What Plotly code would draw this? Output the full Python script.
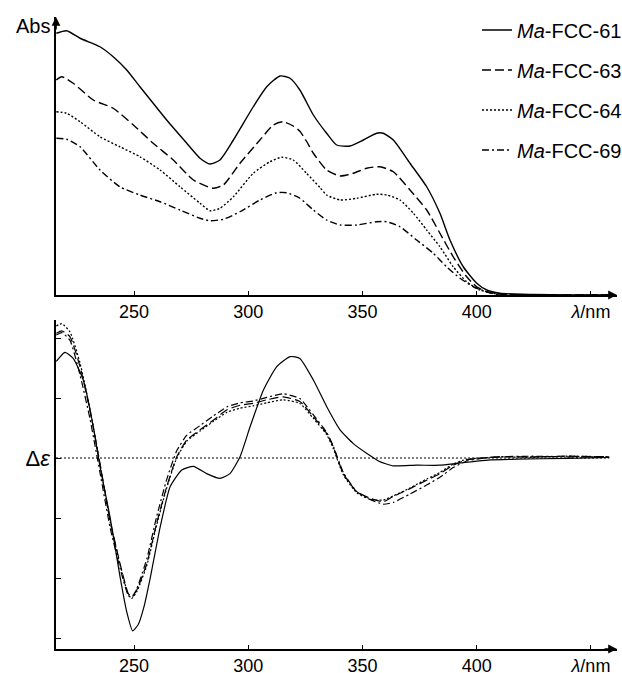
import plotly.graph_objects as go
from plotly.subplots import make_subplots

names = ["<i>Ma</i>-FCC-61", "<i>Ma</i>-FCC-63", "<i>Ma</i>-FCC-64", "<i>Ma</i>-FCC-69"]
dashes = ["solid", "9px,4px", "2px,2px", "7px,3px,2px,3px"]

# ---------- UV (Abs) data ----------
abs_61_x = [216, 220.5, 226.4, 235.1, 240.9, 246.8, 252.6, 258.4, 264.3, 273.1, 278.9, 283.3, 287.6, 293.5,
            302.2, 308.1, 313.9, 318.3, 322.6, 328.5, 334.3, 338.7, 344.5, 350.4, 356.2, 359.1, 363.5, 370.8,
            378.1, 383.9, 388.3, 394.1, 400, 404.4, 410.1, 424.7, 440, 458]
abs_61_y = [1.047, 1.057, 1.027, 0.993, 0.953, 0.900, 0.833, 0.767, 0.700, 0.607, 0.547, 0.524, 0.540, 0.620,
            0.753, 0.833, 0.876, 0.867, 0.820, 0.720, 0.647, 0.600, 0.596, 0.620, 0.647, 0.647, 0.620, 0.527,
            0.433, 0.327, 0.220, 0.113, 0.047, 0.020, 0.007, 0.002, 0.0, 0.0]

abs_63_x = [216, 218.4, 223.4, 232.2, 240.9, 249.7, 258.4, 267.2, 276, 284.7, 289.1, 296.4, 305.1, 311,
            315.3, 319.7, 322.6, 325.5, 328.5, 334.3, 340.2, 346, 351.8, 357.6, 363.5, 370.8, 378.1, 383.9,
            389.7, 395.6, 400, 404.4, 410.1, 430, 458]
abs_63_y = [0.860, 0.873, 0.847, 0.780, 0.747, 0.680, 0.607, 0.540, 0.460, 0.427, 0.440, 0.527, 0.620, 0.680,
            0.693, 0.676, 0.655, 0.615, 0.567, 0.500, 0.476, 0.487, 0.507, 0.513, 0.493, 0.420, 0.340, 0.247,
            0.153, 0.073, 0.033, 0.013, 0.004, 0.0, 0.0]

abs_64_x = [216, 220.5, 226.4, 235.1, 243.8, 252.6, 261.4, 270.1, 278.9, 283.3, 287.6, 293.5, 302.2, 309.5,
            314.6, 319.7, 325.5, 331.4, 334.3, 340.2, 347.5, 356.2, 360.6, 366.4, 372.3, 378.1, 383.9, 389.7,
            395.6, 401.4, 407.3, 413.1, 458]
abs_64_y = [0.733, 0.727, 0.693, 0.633, 0.593, 0.553, 0.500, 0.433, 0.367, 0.337, 0.347, 0.393, 0.487, 0.533,
            0.551, 0.540, 0.487, 0.430, 0.400, 0.380, 0.387, 0.403, 0.400, 0.380, 0.327, 0.260, 0.193, 0.113,
            0.053, 0.020, 0.007, 0.0, 0.0]

abs_69_x = [216, 220.5, 226.4, 235.1, 243.8, 252.6, 261.4, 270.1, 278.9, 283.3, 289.1, 296.4, 305.1, 312.4,
            316.8, 322.6, 328.5, 334.3, 340.2, 347.5, 356.2, 360.6, 366.4, 373.7, 381, 386.8, 392.7, 398.5,
            404.4, 410.1, 458]
abs_69_y = [0.627, 0.623, 0.593, 0.500, 0.433, 0.400, 0.373, 0.340, 0.307, 0.297, 0.303, 0.333, 0.380, 0.409,
            0.409, 0.387, 0.340, 0.300, 0.280, 0.280, 0.293, 0.293, 0.273, 0.220, 0.167, 0.113, 0.067, 0.033,
            0.013, 0.0, 0.0]

# ---------- CD (Δε) data ----------
cd_61_x = [216, 219.8, 223.4, 227.8, 232.2, 235.1, 239.5, 243.9, 246.8, 249.4, 251.8, 254.5, 257, 261.4, 265.8,
           270.9, 276, 281.8, 287.6, 292, 296.4, 300.8, 306.6, 312.4, 318.3, 322.6, 328.5, 334.3, 340.2,
           346, 351.8, 357.6, 363.5, 373.7, 383.9, 391.2, 398.5, 405.8, 417.5, 439.4, 458]
cd_61_y = [16.1, 17.6, 16.6, 13.0, 5.2, -1.4, -9.8, -19.8, -25.6, -28.8, -27.8, -24.6, -20.2, -11.6, -4.8,
           -2.0, -1.4, -2.6, -3.4, -2.6, 0.2, 5.2, 11.3, 15.2, 16.9, 16.6, 13.0, 8.6, 4.7,
           2.4, 0.8, -0.6, -1.3, -1.2, -1.2, -0.9, -0.6, -0.3, -0.2, -0.05, 0.1]

cd_x = [216, 218.4, 222, 226.4, 230.7, 235.1, 239.5, 243.9, 247.5, 249, 251.2, 255.6, 259.9, 264.3,
        268.7, 273.1, 278.9, 284.7, 290.6, 296.4, 302.2, 308.1, 315.3, 322.6, 328.5, 334.3, 337.2,
        341.6, 347.5, 353.3, 359.1, 363.5, 370.8, 378.1, 383.9, 389.7, 395.6, 401.4, 410.1, 424.7,
        439.4, 458]
cd_63_y = [20.8, 21.2, 20.2, 15.2, 8.0, -0.9, -10.3, -17.6, -22.6, -23.1, -22.0, -17.6, -10.9, -4.8,
           0.2, 3.0, 4.7, 6.3, 8.0, 8.8, 9.1, 9.7, 10.2, 9.4, 6.9, 4.1, 1.9,
           -2.6, -5.6, -6.7, -7.3, -6.4, -5.1, -3.7, -2.6, -1.2, -0.3, -0.05, 0.2, 0.2,
           0.3, 0.2]
cd_64_y = [22.0, 22.4, 21.0, 15.8, 8.2, -1.0, -10.5, -17.8, -22.8, -23.4, -22.3, -17.9, -11.2, -5.0,
           0.0, 2.8, 4.5, 6.1, 7.6, 8.3, 8.7, 9.2, 9.7, 9.1, 6.6, 3.9, 1.6,
           -2.8, -5.8, -6.9, -7.0, -6.3, -5.0, -3.5, -2.4, -1.0, -0.2, 0.0, 0.2, 0.1,
           0.3, 0.2]
cd_69_y = [20.5, 20.9, 19.6, 13.8, 6.6, -2.4, -11.5, -18.4, -22.9, -23.3, -21.8, -16.8, -9.8, -3.6,
           1.2, 3.8, 5.4, 7.0, 8.5, 9.2, 9.5, 10.1, 10.7, 9.9, 7.2, 4.3, 2.0,
           -2.4, -5.6, -6.9, -7.7, -7.4, -6.0, -4.5, -3.2, -1.6, -0.5, -0.1, 0.2, 0.3,
           0.2, 0.2]

x_ticks = [250, 300, 350, 400, 450]
x_ticktext = ["250", "300", "350", "400", "<i>λ</i>/nm"]
cd_ticks = [20, 10, 0, -10, -20, -30]
cd_ticktext = ["", "", "Δ<i>ε</i>", "", "", ""]

X_RANGE = [215.86, 461.4]
ABS_RANGE = [0, 1.112]
CD_RANGE = [-31.83, 23.0]

W, H = 622, 673
ML, MR, MT, MB = 56, 5, 17, 24
plot_h = H - MT - MB

def py(pix):
    return (H - MB - pix) / plot_h

def px(pix):
    return (pix - ML) / (W - ML - MR)

fig = make_subplots(rows=2, cols=1, shared_xaxes=False, vertical_spacing=0.02)

abs_sets = [(abs_61_x, abs_61_y), (abs_63_x, abs_63_y), (abs_64_x, abs_64_y), (abs_69_x, abs_69_y)]
cd_sets = [(cd_61_x, cd_61_y), (cd_x, cd_63_y), (cd_x, cd_64_y), (cd_x, cd_69_y)]
legend_ids = ["legend", "legend2", "legend3", "legend4"]

for i in range(4):
    fig.add_trace(go.Scatter(x=abs_sets[i][0], y=abs_sets[i][1], mode="lines", name=names[i],
                             line=dict(color="black", width=1.4, dash=dashes[i], shape="spline", smoothing=0.6),
                             legend=legend_ids[i], showlegend=True, hoverinfo="skip"), row=1, col=1)
for i in range(4):
    fig.add_trace(go.Scatter(x=cd_sets[i][0], y=cd_sets[i][1], mode="lines", name=names[i],
                             line=dict(color="black", width=1.2, dash=dashes[i], shape="spline", smoothing=0.5),
                             showlegend=False, hoverinfo="skip"), row=2, col=1)

FAM = "Liberation Sans, Arial, sans-serif"
font = dict(family=FAM, size=20, color="black")
tick_font = dict(family=FAM, size=18, color="black")

axis_common = dict(range=X_RANGE, showline=True, linecolor="black", linewidth=1.6, ticks="inside",
                   ticklen=4, tickcolor="black", tickvals=x_ticks, ticktext=x_ticktext,
                   showgrid=False, zeroline=False, tickfont=tick_font, automargin=False)
fig.update_xaxes(**axis_common, row=1, col=1)
fig.update_xaxes(**axis_common, row=2, col=1)
fig.update_yaxes(range=ABS_RANGE, showline=True, linecolor="black", linewidth=1.6, showticklabels=False,
                 ticks="", showgrid=False, zeroline=False, automargin=False, row=1, col=1)
fig.update_yaxes(range=CD_RANGE, showline=True, linecolor="black", linewidth=1.6, ticks="inside", ticklen=5,
                 tickcolor="black", tickvals=cd_ticks, ticktext=cd_ticktext,
                 tickfont=dict(family=FAM, size=22, color="black"),
                 showgrid=False, zeroline=False, automargin=False, row=2, col=1)

fig.update_layout(
    xaxis=dict(domain=[0, 1]),
    yaxis=dict(domain=[py(295), 1.0]),
    xaxis2=dict(domain=[0, 1]),
    yaxis2=dict(domain=[0.0, py(320)]),
)

leg_y = [30, 70, 110, 150]
leg_common = dict(xanchor="left", yanchor="middle", bgcolor="rgba(0,0,0,0)", borderwidth=0,
                  font=dict(family=FAM, size=20, color="black"), itemwidth=30)
fig.update_layout(
    legend=dict(x=px(477), y=py(leg_y[0]), **leg_common),
    legend2=dict(x=px(477), y=py(leg_y[1]), **leg_common),
    legend3=dict(x=px(477), y=py(leg_y[2]), **leg_common),
    legend4=dict(x=px(477), y=py(leg_y[3]), **leg_common),
)

# zero line in CD panel
fig.add_shape(type="line", xref="x2", yref="y2", x0=X_RANGE[0], x1=458, y0=0, y1=0,
              line=dict(color="black", width=1.2, dash="2px,2px"))

# axis arrows and labels
arrow = dict(showarrow=True, arrowhead=2, arrowsize=1.1, arrowwidth=1.6, arrowcolor="black", text="", standoff=0)
fig.add_annotation(x=X_RANGE[0], y=ABS_RANGE[1], xref="x", yref="y", ax=0, ay=14, **arrow)
fig.add_annotation(x=X_RANGE[1], y=0, xref="x", yref="y", ax=-14, ay=0, **arrow)
fig.add_annotation(x=X_RANGE[1], y=CD_RANGE[0], xref="x2", yref="y2", ax=-14, ay=0, **arrow)
fig.add_annotation(x=X_RANGE[0], y=ABS_RANGE[1], xref="x", yref="y", text="Abs", showarrow=False,
                   xanchor="right", yanchor="middle", xshift=-4, yshift=-9, font=font)

# fixed margins: legends must not push the plot area
fig.update_layout(width=W, height=H, margin=dict(l=ML, r=MR, t=MT, b=MB, autoexpand=False),
                  paper_bgcolor="white", plot_bgcolor="white", font=font, hovermode=False)

# pin the figure to the window's top-left corner (no default 8px body margin, no scrolling)
pin = ("document.documentElement.style.margin='0';document.documentElement.style.overflow='hidden';"
       "document.body.style.margin='0';document.body.style.overflow='hidden';"
       "var g=document.querySelector('.plotly-graph-div');"
       "g.style.position='fixed';g.style.left='0px';g.style.top='0px';")
fig.write_html("out.html", config={"displayModeBar": False}, post_script=pin)
